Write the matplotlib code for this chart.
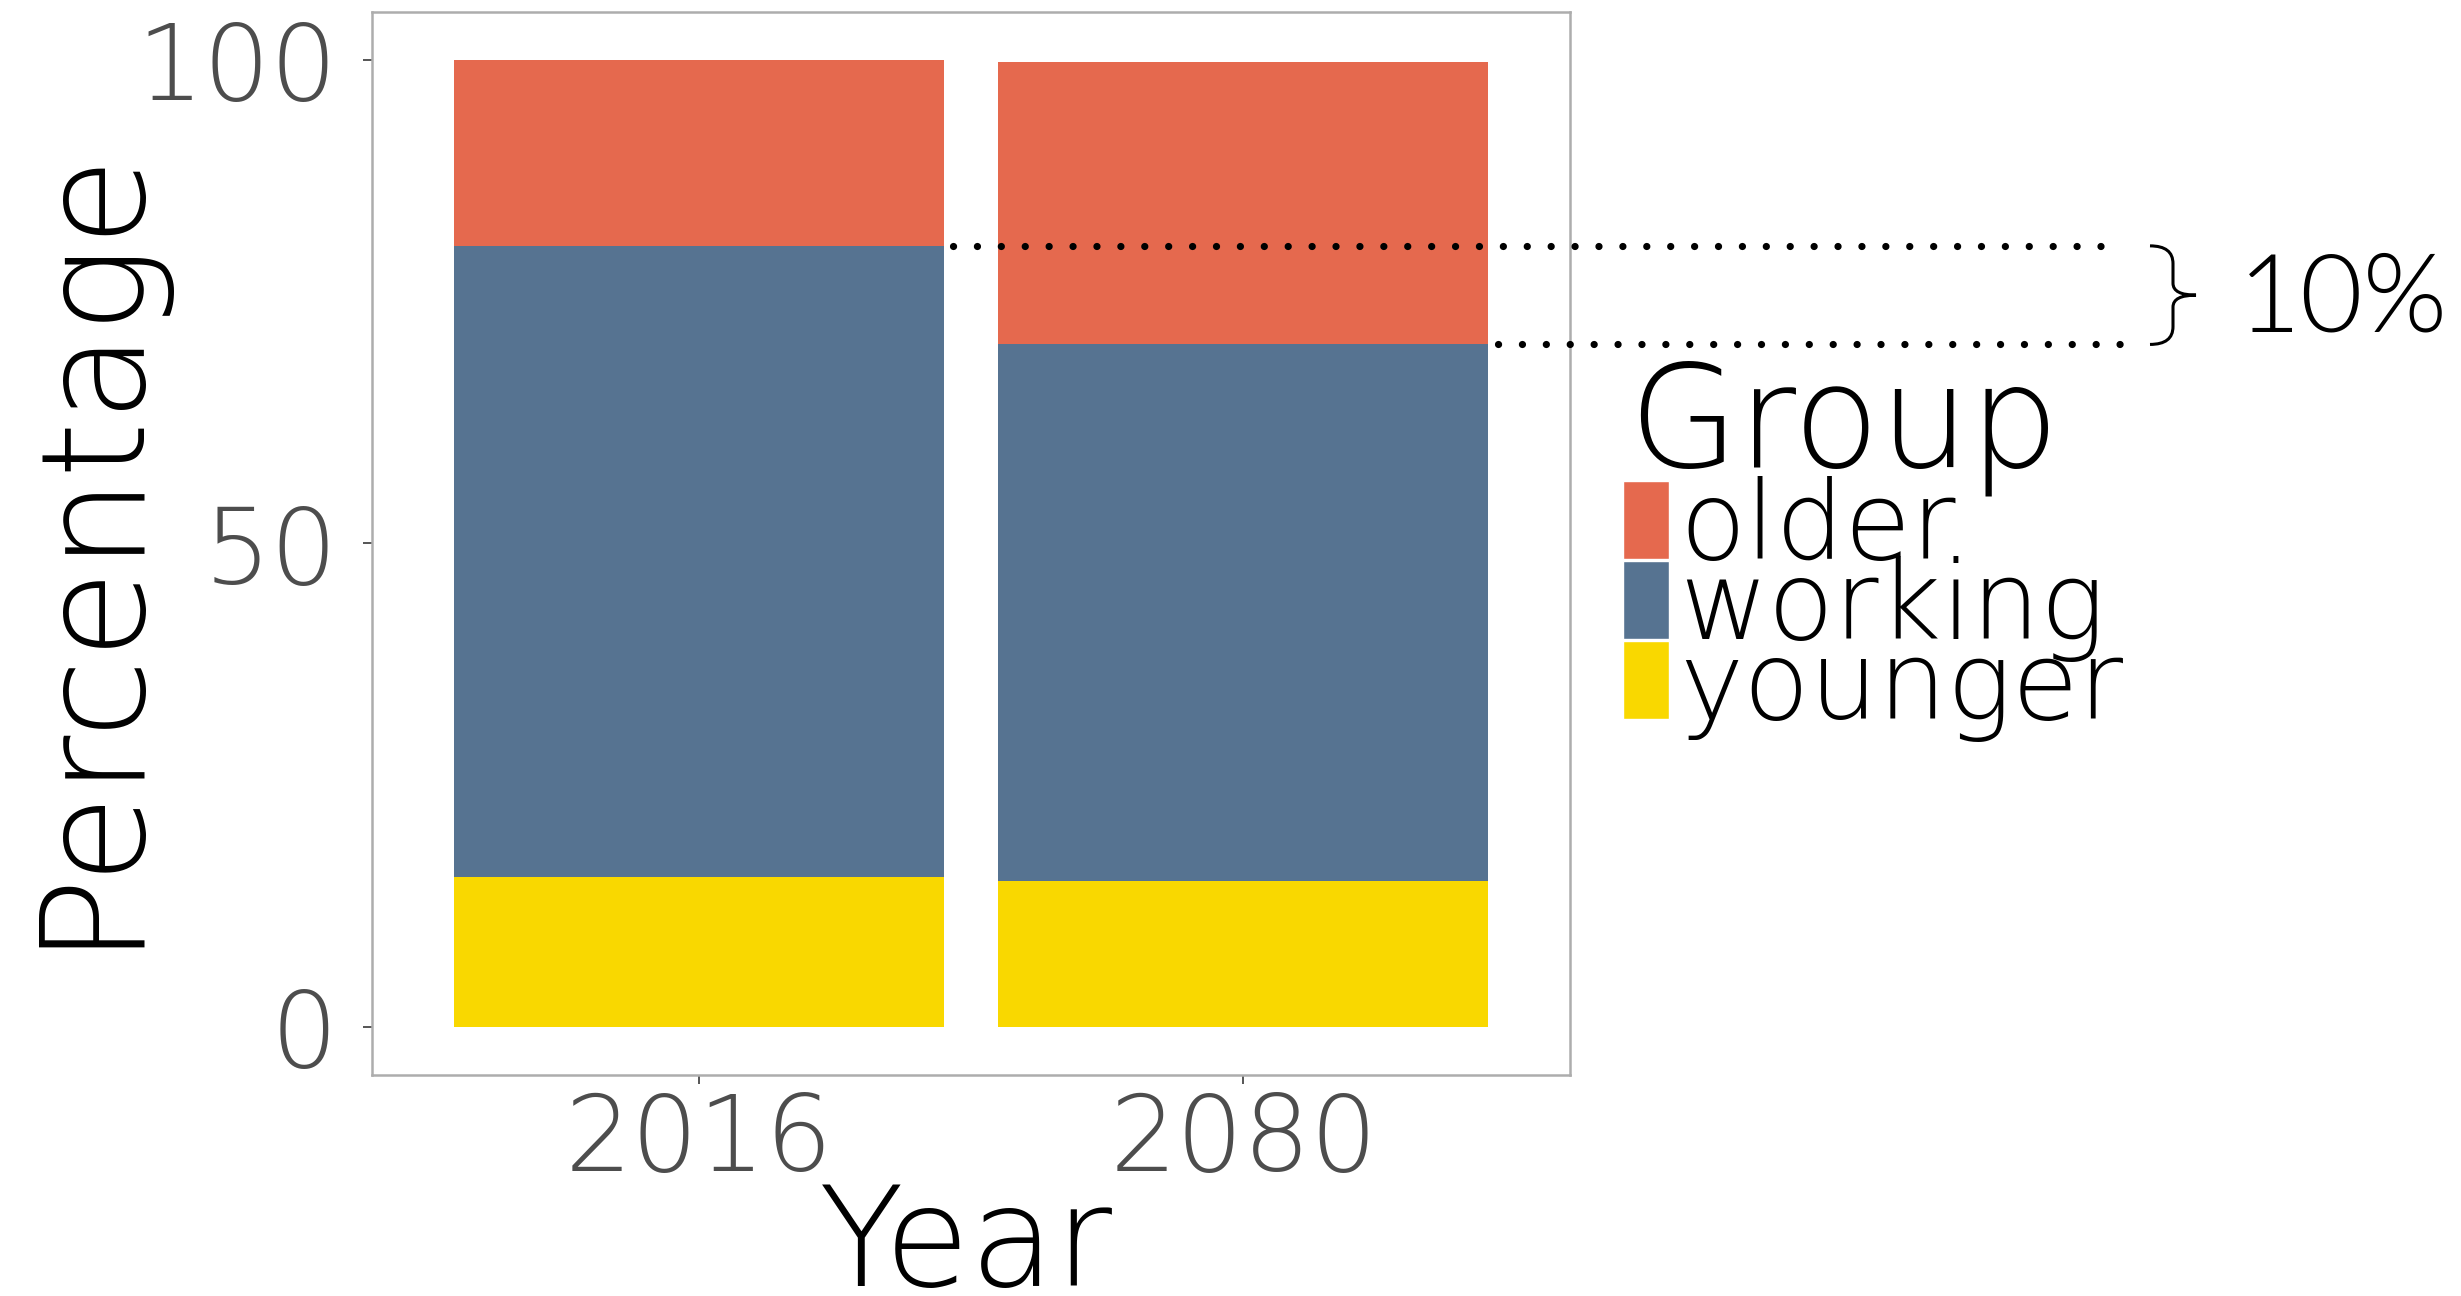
import matplotlib
matplotlib.use('Agg')
import matplotlib.pyplot as plt
from matplotlib.path import Path
from matplotlib.patches import PathPatch, Rectangle
import matplotlib.transforms as mtransforms
import numpy as np

# ---- data ----
years = ['2016', '2080']
groups = ['older', 'working', 'younger']
younger = [15.5, 15.1]
working = [65.3, 55.5]
older = [19.2, 29.2]
yticks = [0, 50, 100]
diff_label = '10%'
colors = {'older': '#E5694E', 'working': '#567391', 'younger': '#F9D800'}

plt.rcParams['font.family'] = ['DejaVu Sans']
FW = 200

W, H = 2461, 1296
fig = plt.figure(figsize=(W / 100, H / 100), dpi=100)
fig.patch.set_facecolor('white')

ax = fig.add_axes([372 / W, 1 - 1075 / H, (1570 - 372) / W, (1075 - 12) / H])
x = np.arange(1, len(years) + 1)
b1 = np.array(younger)
b2 = b1 + np.array(working)
ax.bar(x, younger, width=0.9, color=colors['younger'], linewidth=0)
ax.bar(x, working, bottom=b1, width=0.9, color=colors['working'], linewidth=0)
ax.bar(x, older, bottom=b2, width=0.9, color=colors['older'], linewidth=0)
ax.set_xlim(0.4, 2.6)
ax.set_ylim(-5, 105)
ax.set_xticks(x)
ax.set_xticklabels(years, fontweight=FW)
ax.set_yticks(yticks)
ax.set_yticklabels([str(v) for v in yticks], fontweight=FW)
for s in ax.spines.values():
    s.set_color('#ADADAD')
    s.set_linewidth(1.8)
ax.tick_params(axis='both', length=6.5, width=1.4, color='#555555',
               labelcolor='#4D4D4D', labelsize=76)
ax.tick_params(axis='y', pad=18)
ax.tick_params(axis='x', pad=5)

# ---- overlay in pixel coordinates ----
ov = fig.add_axes([0, 0, 1, 1], zorder=5)
ov.patch.set_alpha(0)
ov.axis('off')

trans = mtransforms.blended_transform_factory(ov.transData, ax.transData)
dot_kw = dict(color='black', linewidth=5.2, linestyle=(0, (0.01, 3.3)),
              dash_capstyle='round', transform=trans, clip_on=False)
ov.plot([953, 2110], [b2[0], b2[0]], **dot_kw)
ov.plot([1498, 2135], [b2[1], b2[1]], **dot_kw)

# brace
ytop, ybot = b2[0], b2[1]
d = ytop - ybot
ymid = (ytop + ybot) / 2
x0, xm, xt = 2150, 2173, 2196
verts = [(x0, ytop), (xm, ytop), (xm, ytop - 0.18 * d),
         (xm, ymid + 0.12 * d),
         (xm, ymid), (xt, ymid),
         (xm, ymid), (xm, ymid - 0.12 * d),
         (xm, ybot + 0.18 * d),
         (xm, ybot), (x0, ybot)]
codes = [Path.MOVETO, Path.CURVE3, Path.CURVE3, Path.LINETO,
         Path.CURVE3, Path.CURVE3, Path.CURVE3, Path.CURVE3,
         Path.LINETO, Path.CURVE3, Path.CURVE3]
ov.add_patch(PathPatch(Path(verts, codes), facecolor='none', edgecolor='black',
                       linewidth=2.2, transform=trans, clip_on=False))
ov.text(2238, 331, diff_label, fontsize=78, color='black', ha='left',
        va='baseline', family=['Lato', 'DejaVu Sans'], fontweight=300)

# axis titles
ov.text(966, 1286, 'Year', fontsize=100, ha='center', va='baseline',
        color='black', fontweight=FW)
ov.text(127, 543, 'Percentage', fontsize=104, ha='center', va='baseline',
        rotation=90, rotation_mode='anchor', color='black', fontweight=FW)

# legend
ov.text(1628, 466, 'Group', fontsize=102, ha='left', va='baseline',
        color='black', fontweight=FW)
key_tops = [481, 561, 641]
for g, top in zip(groups, key_tops):
    ov.add_patch(Rectangle((1623, top), 46, 78, facecolor=colors[g],
                           edgecolor='white', linewidth=1))
    ov.text(1679, top + 78, g, fontsize=78, ha='left', va='baseline',
            color='black', fontweight=FW)

ov.set_xlim(0, W)
ov.set_ylim(H, 0)

fig.savefig('out.png', dpi=100, facecolor='white')
